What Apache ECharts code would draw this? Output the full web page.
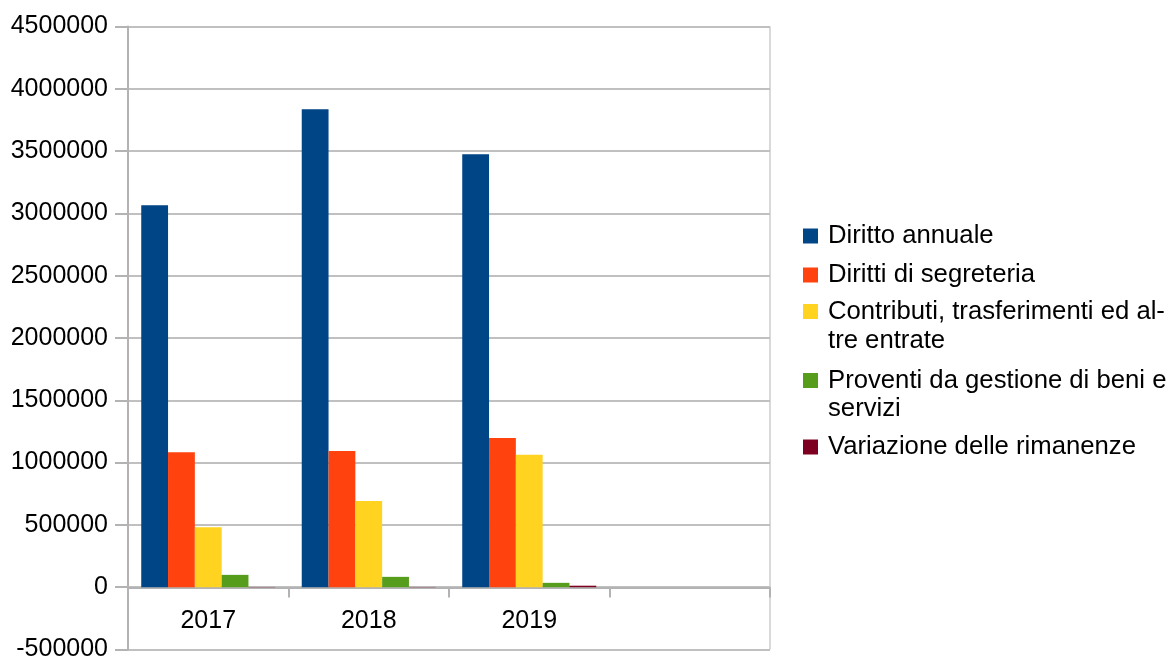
<!DOCTYPE html>
<html lang="it">
<head>
    <meta charset="UTF-8">
    <title>Proventi 2017-2019</title>
    <script src="https://cdn.jsdelivr.net/npm/echarts@6/dist/echarts.min.js"></script>
</head>
<body style="margin:0">
    <div id="main" style="width:1173px;height:659px"></div>
<script type="text/javascript">
    // categorie (la quarta è vuota come nel grafico originale)
    var anni = ['2017', '2018', '2019', ''];
    var nomiSerie = ['Diritto annuale', 'Diritti di segreteria', 'Contributi, trasferimenti ed altre entrate',
        'Proventi da gestione di beni e servizi', 'Variazione delle rimanenze'];
    var dirittoAnnuale = [3065000, 3836000, 3475000];
    var dirittiSegreteria = [1083000, 1093000, 1198000];
    var contributi = [481000, 692000, 1062000];
    var proventi = [99000, 83000, 35000];
    var variazioneRimanenze = [2000, 2000, 12000];
    var colori = ['#004586', '#ff420e', '#ffd320', '#579d1c', '#7e0021'];

    var font = '"Liberation Sans", Arial, sans-serif';
    var valori = [dirittoAnnuale, dirittiSegreteria, contributi, proventi, variazioneRimanenze];

    // testo della legenda come nell'originale (a capo manuale)
    var righeLegenda = [
        ['Diritto annuale'],
        ['Diritti di segreteria'],
        ['Contributi, trasferimenti ed al-', 'tre entrate'],
        ['Proventi da gestione di beni e', 'servizi'],
        ['Variazione delle rimanenze']
    ];
    var centriLegenda = [236, 275, 311.5, 380.5, 447];
    var seconde = [0, 0, 340.5, 409, 0];

    var series = [];
    var legend = [];
    var graphic = [];
    for (var i = 0; i < nomiSerie.length; i++) {
        series.push({
            name: nomiSerie[i],
            type: 'bar',
            data: valori[i],
            itemStyle: {color: colori[i]},
            barGap: '0%',
            barCategoryGap: '16.5%'
        });
        (function (k) {
            legend.push({
                data: [nomiSerie[k]],
                orient: 'vertical',
                left: 803,
                top: centriLegenda[k] - 14.5,
                padding: 0,
                icon: 'rect',
                itemWidth: 15,
                itemHeight: 15,
                selectedMode: false,
                formatter: function () { return righeLegenda[k][0]; },
                textStyle: {fontFamily: font, fontSize: 25.7, color: '#000', lineHeight: 29, padding: [0, 0, 0, 5]}
            });
        })(i);
        if (righeLegenda[i].length > 1) {
            graphic.push({
                type: 'text',
                left: 828,
                top: seconde[i] - 14.5,
                style: {text: righeLegenda[i][1], font: '25.7px ' + font, fill: '#000', lineHeight: 29}
            });
        }
    }

    var myChart = echarts.init(document.getElementById('main'));
    var option = {
        animation: false,
        grid: {left: 128, right: 403, top: 26.5, bottom: 9.5, outerBoundsMode: 'none', containLabel: false,
            show: true, borderColor: '#b3b3b3', borderWidth: 1},
        legend: legend,
        graphic: graphic,
        xAxis: {
            type: 'category',
            data: anni,
            // l'asse delle categorie sta sulla linea dello zero (un intervallo sopra il fondo)
            offset: -62,
            axisLine: {onZero: false, lineStyle: {color: '#b3b3b3', width: 2}},
            axisTick: {show: true, interval: 0, alignWithLabel: false, length: 10,
                lineStyle: {color: '#b3b3b3', width: 2}},
            axisLabel: {fontFamily: font, fontSize: 25, color: '#000', margin: 21}
        },
        yAxis: {
            type: 'value',
            min: -500000,
            max: 4500000,
            interval: 500000,
            axisLine: {show: true, lineStyle: {color: '#b3b3b3', width: 2}},
            axisTick: {show: true, length: 13, lineStyle: {color: '#b3b3b3', width: 2}},
            splitLine: {lineStyle: {color: '#c0c0c0', width: 2}},
            axisLabel: {fontFamily: font, fontSize: 25, color: '#000', margin: 20,
                formatter: function (v) { return String(v); }}
        },
        series: series
    };
    myChart.setOption(option);
</script>
</body>
</html>
